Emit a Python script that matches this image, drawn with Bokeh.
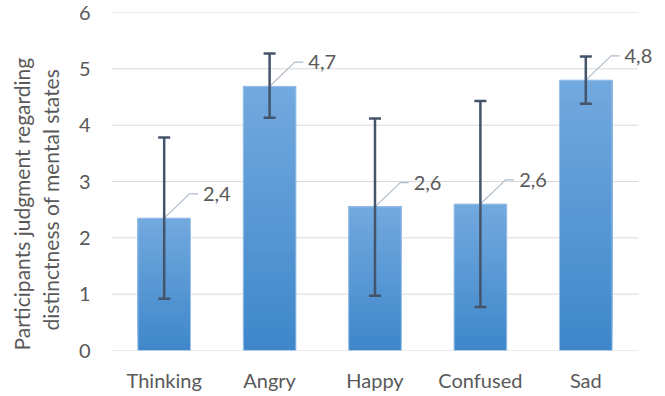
import numpy as np
from bokeh.plotting import figure
from bokeh.models import (ColumnDataSource, Whisker, TeeHead, FixedTicker, Range1d,
                          LabelSet, Title)
from bokeh.core.properties import value
from bokeh.embed import file_html
from bokeh.resources import INLINE

categories = ["Thinking", "Angry", "Happy", "Confused", "Sad"]
means = [2.35, 4.69, 2.55, 2.6, 4.8]
err_low = [0.92, 4.13, 0.97, 0.77, 4.38]
err_high = [3.78, 5.27, 4.12, 4.43, 5.22]
value_labels = ["2,4", "4,7", "2,6", "2,6", "4,8"]
y_ticks = [0, 1, 2, 3, 4, 5, 6]
y_title = ["Participants judgment regarding", "distinctness of mental states"]

FONT = "Lato"
FS = "20px"
TXT = "#595959"
ERR = "#44546a"

xs = list(range(len(categories)))
n = len(categories)
# frame runs to the right edge so the outer data label is not clipped
x_end = -0.5 + n * (665 - 111) / 527

p = figure(width=665, height=396, output_backend="svg", toolbar_location=None,
           title=None,
           x_range=Range1d(-0.5, x_end), y_range=Range1d(0, 6),
           min_border_left=111, min_border_right=0, min_border_top=12,
           min_border_bottom=46)
p.outline_line_color = None
p.background_fill_color = "white"
p.border_fill_color = "white"

# gridlines (ending at the last category slot)
p.segment(x0=[-0.5] * len(y_ticks), x1=[n - 0.5] * len(y_ticks), y0=y_ticks, y1=y_ticks,
          line_color="#d9d9d9", line_width=1)

# gradient bars built from stacked strips
N = 40
top_c = np.array([0x73, 0xa9, 0xde], dtype=float)
bot_c = np.array([0x3e, 0x87, 0xca], dtype=float)
L, R, B, T, C = [], [], [], [], []
for i, v in enumerate(means):
    for j in range(N):
        f = (j + 0.5) / N
        c = bot_c + (top_c - bot_c) * f
        L.append(xs[i] - 0.25)
        R.append(xs[i] + 0.25)
        B.append(v * j / N)
        T.append(v)
        C.append("#%02x%02x%02x" % tuple(int(round(k)) for k in c))
p.quad(left=L, right=R, bottom=B, top=T, fill_color=C, line_color=None)
p.vbar(x=xs, top=means, width=0.5, fill_alpha=0, line_color="#a3c6ea", line_width=1)

# leader lines
lx = [[x, x + 0.24, x + 0.32] for x in xs]
ly = [[v, v + 0.43, v + 0.43] for v in means]
p.multi_line(xs=lx, ys=ly, line_color="#aebccb", line_width=1.2)

# error bars
src = ColumnDataSource(dict(x=xs, lower=err_low, upper=err_high))
w = Whisker(source=src, base="x", lower="lower", upper="upper", dimension="height",
            line_color=ERR, line_width=2.5, level="annotation",
            upper_head=TeeHead(size=12, line_color=ERR, line_width=2.5),
            lower_head=TeeHead(size=12, line_color=ERR, line_width=2.5))
p.add_layout(w)

# data labels
lab_src = ColumnDataSource(dict(x=[x + 0.32 for x in xs],
                                y=[v + 0.43 for v in means],
                                text=value_labels))
p.add_layout(LabelSet(source=lab_src, x="x", y="y", text="text", x_offset=5,
                      text_font=value(FONT), text_font_size=value(FS),
                      text_color=value(TXT),
                      text_baseline="middle", text_align="left", level="overlay"))

# axes
p.xgrid.grid_line_color = None
p.ygrid.grid_line_color = None
p.yaxis.ticker = FixedTicker(ticks=y_ticks)
p.xaxis.ticker = FixedTicker(ticks=xs)
p.xaxis.major_label_overrides = {i: c for i, c in zip(xs, categories)}
for ax in (p.xaxis, p.yaxis):
    ax.axis_line_color = None
    ax.major_tick_line_color = None
    ax.minor_tick_line_color = None
    ax.major_tick_out = 0
    ax.major_tick_in = 0
    ax.major_label_text_font = FONT
    ax.major_label_text_font_size = FS
    ax.major_label_text_color = TXT
p.yaxis.major_label_standoff = 21
p.xaxis.major_label_standoff = 17

# y-axis title as two left-side titles (inner line first)
for txt, off, so in [(y_title[1], 20, 26), (y_title[0], 0, -22)]:
    p.add_layout(Title(text=txt, align="left", offset=off, standoff=so,
                       text_font=FONT, text_font_size="21px", text_font_style="normal",
                       text_color=TXT), "left")

open("out.html", "w").write(file_html(p, INLINE))
